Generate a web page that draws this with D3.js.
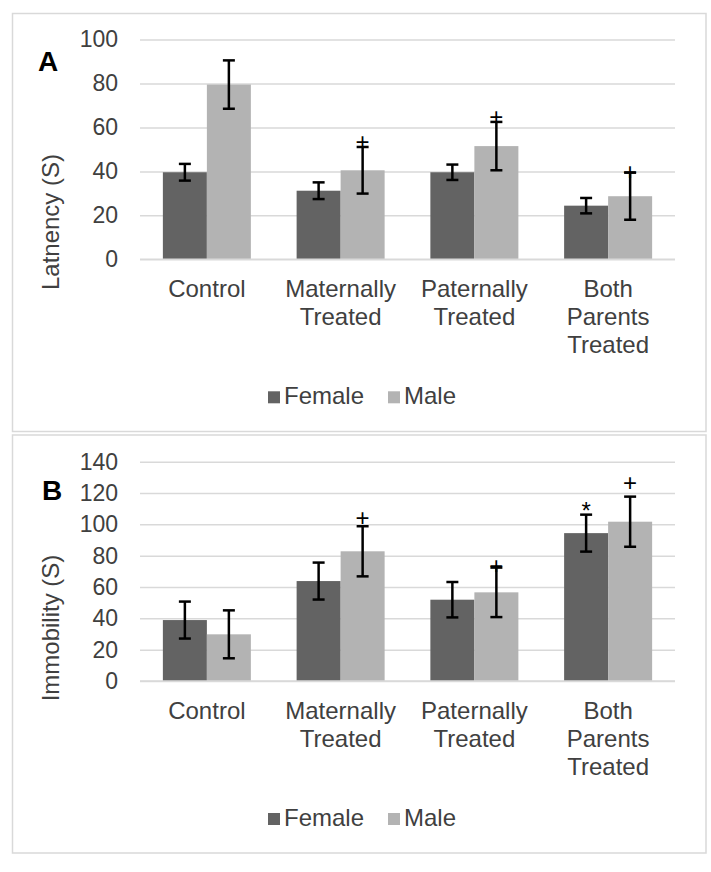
<!DOCTYPE html>
<html>
<head>
<meta charset="utf-8">
<script src="https://cdn.jsdelivr.net/npm/d3@7/dist/d3.min.js"></script>
<style>
  body { margin: 0; background: #fff; }
  svg text { font-family: "Liberation Sans", Arial, sans-serif; }
</style>
</head>
<body>
<div id="chart"></div>
<script>
// data
var categories = ["Control", "Maternally Treated", "Paternally Treated", "Both Parents Treated"];
var categoryLines = [["Control"], ["Maternally", "Treated"], ["Paternally", "Treated"], ["Both", "Parents", "Treated"]];
var seriesNames = ["Female", "Male"];
var seriesColors = ["#636363", "#b3b3b3"];

var latencyFemale = [39.6, 31.2, 39.6, 24.4];
var latencyFemaleErr = [3.8, 3.8, 3.5, 3.5];
var latencyMale = [79.5, 40.5, 51.5, 28.7];
var latencyMaleErr = [11, 10.6, 11, 10.7];
var latencyTicks = [0, 20, 40, 60, 80, 100];
var latencyMarks = [
  { category: "Maternally Treated", series: "Male", symbol: "+", value: 53.8 },
  { category: "Paternally Treated", series: "Male", symbol: "+", value: 65.2 },
  { category: "Both Parents Treated", series: "Male", symbol: "+", value: 40 }
];

var immobilityFemale = [38.9, 63.8, 51.9, 94.4];
var immobilityFemaleErr = [11.8, 11.8, 11.3, 11.8];
var immobilityMale = [29.8, 82.8, 56.6, 101.7];
var immobilityMaleErr = [15.3, 16, 15.8, 16];
var immobilityTicks = [0, 20, 40, 60, 80, 100, 120, 140];
var immobilityMarks = [
  { category: "Maternally Treated", series: "Male", symbol: "+", value: 104.2 },
  { category: "Paternally Treated", series: "Male", symbol: "+", value: 74 },
  { category: "Both Parents Treated", series: "Female", symbol: "*", value: 112.5 },
  { category: "Both Parents Treated", series: "Male", symbol: "+", value: 126.8 }
];

var config = {
  latency: {
    letter: "A", letterX: 38, letterY: 71,
    title: "Latnency (S)", titleY: 222,
    box: [12.5, 13.5, 693.5, 418],
    top: 39.5, bottom: 259.3,
    yDomain: [0, 100], ticks: latencyTicks,
    values: [latencyFemale, latencyMale], errors: [latencyFemaleErr, latencyMaleErr],
    marks: latencyMarks
  },
  immobility: {
    letter: "B", letterX: 42, letterY: 500,
    title: "Immobility (S)", titleY: 628,
    box: [12.5, 435, 693.5, 418],
    top: 461.7, bottom: 681,
    yDomain: [0, 140], ticks: immobilityTicks,
    values: [immobilityFemale, immobilityMale], errors: [immobilityFemaleErr, immobilityMaleErr],
    marks: immobilityMarks
  }
};

var svg = d3.select("#chart").append("svg")
    .attr("width", 711)
    .attr("height", 872);

var plotLeft = 140, plotRight = 675;

drawPanel(config.latency);
drawPanel(config.immobility);

function drawPanel(cfg) {
  var g = svg.append("g");

  g.append("rect")
      .attr("x", cfg.box[0]).attr("y", cfg.box[1])
      .attr("width", cfg.box[2]).attr("height", cfg.box[3])
      .attr("fill", "#fff")
      .attr("stroke", "#d9d9d9")
      .attr("stroke-width", 1.5);

  var x0 = d3.scaleBand()
      .domain(categories)
      .range([plotLeft, plotRight])
      .paddingInner(0.342)
      .paddingOuter(0.171);

  var x1 = d3.scaleBand()
      .domain(seriesNames)
      .range([0, x0.bandwidth()]);

  var y = d3.scaleLinear()
      .domain(cfg.yDomain)
      .range([cfg.bottom, cfg.top]);

  // gridlines + tick labels
  var yAxis = g.append("g")
      .attr("transform", "translate(" + plotLeft + ",0)")
      .call(d3.axisLeft(y).tickValues(cfg.ticks).tickSize(-(plotRight - plotLeft)).tickPadding(22));
  yAxis.select(".domain").remove();
  yAxis.selectAll(".tick line").attr("stroke", "#d9d9d9").attr("stroke-width", 1.5);
  yAxis.selectAll(".tick text")
      .attr("fill", "#404040")
      .style("font-size", "23px");

  var rows = [];
  seriesNames.forEach(function(s, si) {
    categories.forEach(function(c, ci) {
      rows.push({ category: c, series: s, si: si, value: cfg.values[si][ci], err: cfg.errors[si][ci] });
    });
  });

  g.append("g").selectAll("rect")
    .data(rows)
    .enter().append("rect")
      .attr("x", function(d) { return x0(d.category) + x1(d.series); })
      .attr("y", function(d) { return y(d.value); })
      .attr("width", x1.bandwidth())
      .attr("height", function(d) { return y(0) - y(d.value); })
      .attr("fill", function(d) { return seriesColors[d.si]; });

  // base line
  g.append("line")
      .attr("x1", plotLeft).attr("x2", plotRight)
      .attr("y1", y(0)).attr("y2", y(0))
      .attr("stroke", "#d9d9d9").attr("stroke-width", 1.5);

  // error bars
  var cap = 6;
  var eb = g.append("g").attr("stroke", "#000").attr("stroke-width", 2.5);
  rows.forEach(function(d) {
    var cx = x0(d.category) + x1(d.series) + x1.bandwidth() / 2;
    var lo = y(d.value - d.err), hi = y(d.value + d.err);
    eb.append("line").attr("x1", cx).attr("x2", cx).attr("y1", lo).attr("y2", hi);
    eb.append("line").attr("x1", cx - cap).attr("x2", cx + cap).attr("y1", lo).attr("y2", lo);
    eb.append("line").attr("x1", cx - cap).attr("x2", cx + cap).attr("y1", hi).attr("y2", hi);
  });

  // significance marks
  g.append("g").selectAll("text")
    .data(cfg.marks)
    .enter().append("text")
      .attr("x", function(d) { return x0(d.category) + x1(d.series) + x1.bandwidth() / 2; })
      .attr("y", function(d) { return y(d.value); })
      .attr("dy", function(d) { return d.symbol == "*" ? "0.6em" : "0.36em"; })
      .attr("text-anchor", "middle")
      .attr("fill", "#000")
      .style("font-size", "24px")
      .text(function(d) { return d.symbol; });

  // category labels
  var cl = g.append("g").selectAll("text")
    .data(categories)
    .enter().append("text")
      .attr("text-anchor", "middle")
      .attr("fill", "#404040")
      .style("font-size", "24px")
      .attr("transform", function(c) { return "translate(" + (x0(c) + x0.bandwidth() / 2) + "," + (cfg.bottom + 38) + ")"; });
  cl.selectAll("tspan")
    .data(function(c, i) { return categoryLines[i]; })
    .enter().append("tspan")
      .attr("x", 0)
      .attr("y", function(t, i) { return i * 28; })
      .text(function(t) { return t; });

  // axis title
  g.append("text")
      .attr("transform", "translate(59," + cfg.titleY + ") rotate(-90)")
      .attr("text-anchor", "middle")
      .attr("fill", "#404040")
      .style("font-size", "24px")
      .text(cfg.title);

  // panel letter
  g.append("text")
      .attr("x", cfg.letterX).attr("y", cfg.letterY)
      .attr("fill", "#000")
      .style("font-size", "28px")
      .style("font-weight", "bold")
      .text(cfg.letter);

  // legend
  var ly = cfg.bottom + 145;
  var legendX = [268, 388];
  var lg = g.append("g").selectAll("g")
    .data(seriesNames)
    .enter().append("g")
      .attr("transform", function(s, i) { return "translate(" + legendX[i] + "," + ly + ")"; });
  lg.append("rect")
      .attr("x", 0).attr("y", -13)
      .attr("width", 12).attr("height", 12)
      .attr("fill", function(s, i) { return seriesColors[i]; });
  lg.append("text")
      .attr("x", 16).attr("y", 0)
      .attr("fill", "#404040")
      .style("font-size", "24px")
      .text(function(s) { return s; });
}
</script>
</body>
</html>
